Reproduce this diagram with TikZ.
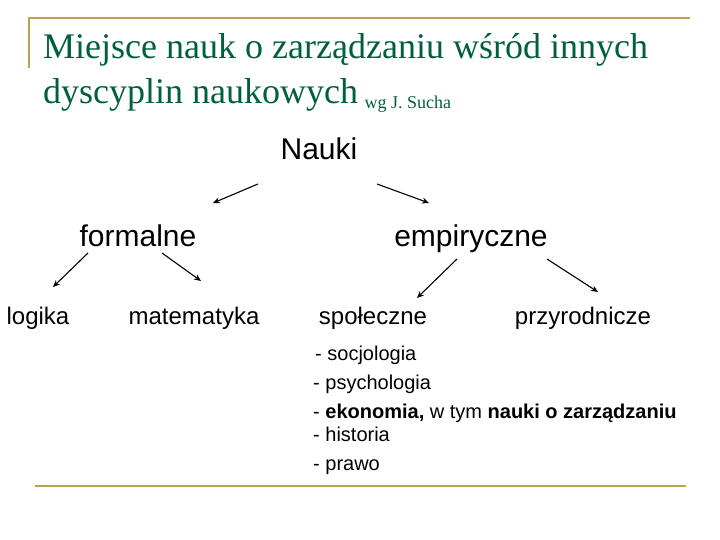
\documentclass[tikz,border=0pt]{standalone}
\usepackage{fontspec}
\setmainfont{Liberation Sans}
\newfontfamily\titlefont{Liberation Serif}
\usetikzlibrary{arrows.meta, positioning}
\definecolor{titlegreen}{RGB}{0, 95, 65}
\definecolor{rulegold}{RGB}{190, 160, 80}
\tikzset{
  title/.style = {anchor=base west, inner sep=0pt, text=titlegreen,
                  font=\titlefont\fontsize{36}{42}\selectfont},
  big/.style   = {anchor=base, inner sep=0pt, font=\fontsize{30}{34}\selectfont},
  leaf/.style  = {anchor=base, inner sep=0pt, font=\fontsize{24}{28}\selectfont},
  item/.style  = {anchor=base west, inner sep=0pt, font=\fontsize{20}{24}\selectfont},
  arrow/.style = {line width=1.1pt, -{Stealth[length=7pt, width=6pt]}},
  goldrule/.style = {line width=2pt, draw=rulegold}
}

\begin{document}
\begin{tikzpicture}[x=1pt, y=-1pt]
    \useasboundingbox (0,0) rectangle (720,540);

    %Frame lines
    \draw [goldrule] (29,68) -- (29,18) -- (690,18);
    \draw [goldrule] (35,486) -- (686,486);

    %Title
    \node (title1) [title] at (43,59) {Miejsce nauk o zarządzaniu wśród innych};
    \node (title2) [title] at (43,104) {dyscyplin naukowych};
    \node (author) [anchor=base west, inner sep=0pt, text=titlegreen,
                    font=\titlefont\fontsize{18}{20}\selectfont,
                    right=6pt of title2.base east] {wg J. Sucha};

    %Top level
    \node (nauki) [big] at (319,160) {Nauki};
    \node (formalne) [big] at (138,247) {formalne};
    \node (empiryczne) [big] at (471,247) {empiryczne};

    %Leaves
    \node (logika) [leaf] at (38,324) {logika};
    \node (matematyka) [leaf] at (194,324) {matematyka};
    \node (spoleczne) [leaf] at (373,324) {społeczne};
    \node (przyrodnicze) [leaf] at (583,324) {przyrodnicze};

    %Arrows
    \coordinate (n1) at (258,184);
    \coordinate (n2) at (377,184);
    \coordinate (f1) at (88,253);
    \coordinate (f2) at (162,253);
    \coordinate (e1) at (457,259);
    \coordinate (e2) at (547,259);
    \draw [arrow] (n1) -- (213,203);
    \draw [arrow] (n2) -- (429,203);
    \draw [arrow] (f1) -- (53,287);
    \draw [arrow] (f2) -- (201,281);
    \draw [arrow] (e1) -- (417,298);
    \draw [arrow] (e2) -- (598,292);

    %List of social sciences
    \node (soc) [item] at (315,360) {- socjologia};
    \node (psy) [item] at (313,389) {- psychologia};
    \node (eko) [item] at (313,418) {- \textbf{ekonomia,} w tym \textbf{nauki o zarządzaniu}};
    \node (his) [item] at (313,441) {- historia};
    \node (pra) [item] at (313,470) {- prawo};

\end{tikzpicture}
\end{document}
